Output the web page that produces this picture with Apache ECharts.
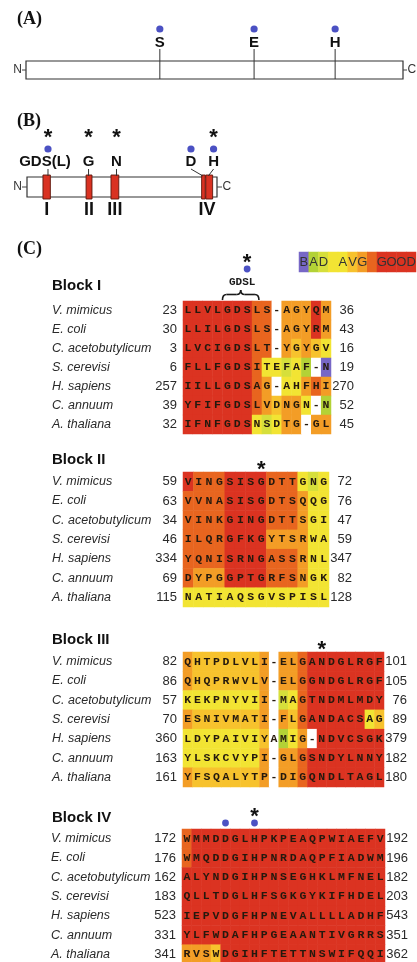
<!DOCTYPE html>
<html>
<head>
<meta charset="utf-8">
<script src="https://cdn.jsdelivr.net/npm/echarts@6/dist/echarts.min.js"></script>
<style>
html,body{margin:0;padding:0;background:#fff;}
#chart{width:417px;height:962px;}
</style>
</head>
<body>
<div id="chart"></div>
<script>
// ---------- Panel A: full-length chain with the catalytic triad ----------
const triadNames = ['S', 'E', 'H'];
const triadPos = [35.5, 60.5, 82.0];          // relative position along the chain (0-100)

// ---------- Panel B: conserved blocks I-IV ----------
const segStart = [8.4, 31.1, 44.2, 91.9, 94.1];
const segEnd   = [12.3, 34.2, 48.3, 93.8, 97.7];
const segBlock = [0, 1, 2, 3, 3];
const blockNumerals = ['I', 'II', 'III', 'IV'];
const motifLabels = ['GDS(L)', 'G', 'N', 'D', 'H'];
const motifAnchor = [11.05, 32.4, 47.1, 86.3, 98.2];
const motifSite   = [11.05, 32.4, 47.1, 92.6, 95.4];
const motifStar = [1, 1, 1, 0, 1];
const motifDot  = [1, 0, 0, 1, 1];

// ---------- Panel C: alignment of the four blocks ----------
const species = ['V. mimicus', 'E. coli', 'C. acetobutylicum', 'S. cerevisi', 'H. sapiens', 'C. annuum', 'A. thaliana'];
const blockTitles = ['Block I', 'Block II', 'Block III', 'Block IV'];

const seqI = ['LLVLGDSLS-AGYQM', 'LLILGDSLS-AGYRM', 'LVCIGDSLT-YGYGV', 'FLLFGDSITEFAF-N', 'IILLGDSAG-AHFHI', 'YFIFGDSLVDNGN-N', 'IFNFGDSNSDTG-GL'];
const scoreI = ['777777766.55575', '777777766.55575', '777777766.54543', '7777777633231.0', '777777765.33565', '7777777654553.1', '777777732355.55'];
const startI = [23, 30, 3, 6, 257, 39, 32];
const endI = [36, 43, 16, 19, 270, 52, 45];

const seqII = ['VINGSISGDTTGNG', 'VVNASISGDTSQQG', 'VINKGINGDTTSGI', 'ILQRGFKGYTSRWA', 'YQNISRNGASSRNL', 'DYPGGPTGRFSNGK', 'NATIAQSGVSPISL'];
const scoreII = ['76667777666323', '66667777666533', '66667777666533', '66667777555533', '66667777666533', '65557777666533', '33333333333333'];
const startII = [59, 63, 34, 46, 334, 69, 115];
const endII = [72, 76, 47, 59, 347, 82, 128];

const seqIII = ['QHTPDLVLI-ELGANDGLRGF', 'QHQPRWVLV-ELGGNDGLRGF', 'KEKPNYVII-MAGTNDMLMDY', 'ESNIVMATI-FLGANDACSAG', 'LDYPAIVIYAMIG-NDVCSGK', 'YLSKCVYPI-GLGSNDYLNNY', 'YFSQALYTP-DIGQNDLTAGL'];
const scoreIII = ['544444445.55677777777', '544444445.55677777777', '333333335.23677777777', '544444445.54677777734', '333333334.135.7777777', '333333335.55677777777', '544444445.55677777777'];
const startIII = [82, 86, 57, 70, 360, 163, 161];
const endIII = [101, 105, 76, 89, 379, 182, 180];

const seqIV = ['WMMDDGLHPKPEAQPWIAEFV', 'WMQDDGIHPNRDAQPFIADWM', 'ALYNDGIHPNSEGHKLMFNEL', 'QLLTDGLHFSGKGYKIFHDEL', 'IEPVDGFHPNEVALLLLADHF', 'YLFWDAFHPGEAANTIVGRRS', 'RVSWDGIHFTETTNSWIFQQI'];
const scoreIV = ['677777777777777777777', '677777777777777777777', '777777777777777777777', '777777777777777777777', '777777777777777777777', '777777777777777777777', '555477777777777777777'];
const startIV = [172, 176, 162, 183, 523, 331, 341];
const endIV = [192, 196, 182, 203, 543, 351, 362];

const blockSeqs = [seqI, seqII, seqIII, seqIV];
const blockScores = [scoreI, scoreII, scoreIII, scoreIV];
const blockStarts = [startI, startII, startIII, startIV];
const blockEnds = [endI, endII, endIII, endIV];
const starCols = [[6], [7], [14], [7]];
const dotCols = [[6], [], [], [4, 7]];
const motifBlock = 0;
const motifText = 'GDSL';
const motifCols = [4, 7];

// conservation scale
const legendLetters = 'BAD AVG GOOD'.split('');
const legendScores = [0, 1, 2, 3, 3, 4, 5, 6, 7, 7, 7, 7];
const scoreColors = ['#7767c6', '#b3d236', '#d6df3b', '#f2e433', '#f7c22d', '#f39d26', '#e8651f', '#db3321'];

// ---------- drawing ----------
const SANS = '"Liberation Sans", Arial, Helvetica, sans-serif';
const SERIF = '"Liberation Serif", "Times New Roman", serif';
const MONO = '"Liberation Mono", "Courier New", monospace';
const DOT = '#4b51c3';

const chart = echarts.init(document.getElementById('chart'), null, { renderer: 'canvas', width: 417, height: 962 });

function starEl(x, y) {
  return { type: 'text', x: x, y: y + 5, style: { text: '*', font: 'bold 22px ' + SANS, fill: '#111', align: 'center', verticalAlign: 'middle' } };
}
function dotEl(x, y, r) {
  return { type: 'circle', shape: { cx: x, cy: y, r: r }, style: { fill: DOT } };
}
function terminals(x0, x1, ym, dash) {
  const f = '12px ' + SANS;
  return [
    { type: 'line', shape: { x1: x0 - dash, y1: ym, x2: x0, y2: ym }, style: { stroke: '#444', lineWidth: 1, fill: 'none' } },
    { type: 'text', x: x0 - dash, y: ym, style: { text: 'N', font: f, fill: '#333', align: 'right', verticalAlign: 'middle' } },
    { type: 'line', shape: { x1: x1, y1: ym, x2: x1 + dash, y2: ym }, style: { stroke: '#444', lineWidth: 1, fill: 'none' } },
    { type: 'text', x: x1 + dash + 0.5, y: ym, style: { text: 'C', font: f, fill: '#333', align: 'left', verticalAlign: 'middle' } }
  ];
}
function chainRender(dash) {
  return function (params, api) {
    const cs = params.coordSys;
    const x0 = api.coord([api.value(0), 0])[0];
    const x1 = api.coord([api.value(1), 0])[0];
    const yT = cs.y, yB = cs.y + cs.height;
    return {
      type: 'group',
      children: [{ type: 'rect', shape: { x: x0, y: yT, width: x1 - x0, height: yB - yT }, style: { fill: '#fff', stroke: '#333', lineWidth: 1.2 } }]
        .concat(terminals(x0, x1, (yT + yB) / 2, dash))
    };
  };
}

// headings as plain text
const headings = [
  { text: '(A)', x: 17, y: 19, font: 'bold 18px ' + SERIF },
  { text: '(B)', x: 17, y: 121, font: 'bold 18px ' + SERIF },
  { text: '(C)', x: 17, y: 249, font: 'bold 18px ' + SERIF }
].concat(blockTitles.map((t, i) => ({ text: t, x: 52, y: [286, 460, 640, 818][i], font: 'bold 15px ' + SANS })))
 .map(h => ({ type: 'text', x: h.x, y: h.y, style: { text: h.text, font: h.font, fill: '#111', verticalAlign: 'middle' } }));

const blockGrids = [
  { left: 183, top: 301, width: 148, height: 133 },
  { left: 183, top: 472, width: 146, height: 135 },
  { left: 183, top: 652, width: 201, height: 135 },
  { left: 182, top: 829, width: 203, height: 135 }
];

const grids = [
  { left: 26, top: 61, width: 377, height: 18 },
  { left: 27, top: 177, width: 190, height: 20 },
  { left: 299, top: 252, width: 117, height: 20 }
].concat(blockGrids).map(g => Object.assign({ containLabel: false, outerBoundsMode: 'none', show: false }, g));

const hidden = { show: false };
const xAxes = [
  { type: 'value', gridIndex: 0, min: 0, max: 100, show: false },
  { type: 'value', gridIndex: 1, min: 0, max: 100, show: false },
  { type: 'category', gridIndex: 2, data: legendLetters.map((_, i) => i), show: false }
].concat(blockSeqs.map((s, b) => ({ type: 'category', gridIndex: 3 + b, data: s[0].split('').map((_, i) => i), show: false })));

const labelText = { fontFamily: SANS, fontSize: 13, color: '#2a2a2a' };
const yAxes = [
  { type: 'value', gridIndex: 0, min: 0, max: 1, show: false },
  { type: 'value', gridIndex: 1, min: 0, max: 1, show: false },
  { type: 'category', gridIndex: 2, data: ['s'], show: false }
].concat(blockSeqs.map((s, b) => ({
  type: 'category', gridIndex: 3 + b, data: species, inverse: true,
  axisLine: hidden, axisTick: hidden, splitLine: hidden,
  axisLabel: {
    interval: 0, margin: 6,
    formatter: (v, i) => '{n|' + v + '}{v|' + blockStarts[b][i] + '}',
    rich: {
      n: Object.assign({}, labelText, { width: 100, align: 'left', fontStyle: 'italic', fontSize: 12.5 }),
      v: Object.assign({}, labelText, { width: 25, align: 'right' })
    }
  }
}))).concat(blockSeqs.map((s, b) => ({
  type: 'category', gridIndex: 3 + b, position: 'right', inverse: true,
  data: blockEnds[b].map(String),
  axisLine: hidden, axisTick: hidden, splitLine: hidden,
  axisLabel: {
    interval: 0, margin: 2,
    formatter: v => '{v|' + v + '}',
    rich: { v: Object.assign({}, labelText, { width: 21, align: 'right' }) }
  }
})));

const series = [];

// Panel A
series.push({
  type: 'custom', xAxisIndex: 0, yAxisIndex: 0, clip: false, silent: true,
  encode: { x: [0, 1], y: 2 }, data: [[0, 100, 0.5]], renderItem: chainRender(4)
});
series.push({
  type: 'custom', xAxisIndex: 0, yAxisIndex: 0, clip: false, silent: true,
  encode: { x: 0, y: 1 }, data: triadPos.map((p, i) => [p, 0.5, i]),
  renderItem: function (params, api) {
    const cs = params.coordSys, i = api.value(2);
    const x = api.coord([api.value(0), 0])[0];
    const yT = cs.y, yB = cs.y + cs.height;
    return {
      type: 'group', children: [
        { type: 'line', shape: { x1: x, y1: yB, x2: x, y2: yT - 12 }, style: { stroke: '#333', lineWidth: 1, fill: 'none' } },
        { type: 'text', x: x, y: yT - 18, style: { text: triadNames[i], font: 'bold 15px ' + SANS, fill: '#111', align: 'center', verticalAlign: 'middle' } },
        dotEl(x, yT - 32, 3.6)
      ]
    };
  }
});

// Panel B
series.push({
  type: 'custom', xAxisIndex: 1, yAxisIndex: 1, clip: false, silent: true,
  encode: { x: [0, 1], y: 2 }, data: [[0, 100, 0.5]], renderItem: chainRender(5)
});
series.push({
  type: 'custom', xAxisIndex: 1, yAxisIndex: 1, clip: false, silent: true,
  encode: { x: [0, 1], y: 2 }, data: segStart.map((s, i) => [s, segEnd[i], 0.5, segBlock[i]]),
  renderItem: function (params, api) {
    const cs = params.coordSys;
    const x0 = api.coord([api.value(0), 0])[0], x1 = api.coord([api.value(1), 0])[0];
    return { type: 'rect', shape: { x: x0, y: cs.y - 2, width: x1 - x0, height: cs.height + 4 }, style: { fill: '#d93222', stroke: '#5e160c', lineWidth: 0.9 } };
  }
});
series.push({
  type: 'custom', xAxisIndex: 1, yAxisIndex: 1, clip: false, silent: true,
  encode: { x: 0, y: 1 },
  data: blockNumerals.map((n, b) => {
    const s = segStart.filter((_, i) => segBlock[i] === b), e = segEnd.filter((_, i) => segBlock[i] === b);
    return [(Math.min.apply(null, s) + Math.max.apply(null, e)) / 2, 0.5, b];
  }),
  renderItem: function (params, api) {
    const cs = params.coordSys;
    const x = api.coord([api.value(0), 0])[0];
    return { type: 'text', x: x, y: cs.y + cs.height + 13, style: { text: blockNumerals[api.value(2)], font: 'bold 18px ' + SANS, fill: '#111', align: 'center', verticalAlign: 'middle' } };
  }
});
series.push({
  type: 'custom', xAxisIndex: 1, yAxisIndex: 1, clip: false, silent: true,
  encode: { x: [0, 1], y: 2 }, data: motifAnchor.map((a, i) => [a, motifSite[i], 0.5, i]),
  renderItem: function (params, api) {
    const cs = params.coordSys, i = api.value(3);
    const ax = api.coord([api.value(0), 0])[0], sx = api.coord([api.value(1), 0])[0];
    const yT = cs.y;
    const label = motifLabels[i];
    const kids = [
      { type: 'text', x: ax - (label.length > 1 ? 3 : 0), y: yT - 15, style: { text: label, font: 'bold 15px ' + SANS, fill: '#111', align: 'center', verticalAlign: 'middle' } },
      { type: 'line', shape: { x1: ax, y1: yT - 8, x2: sx, y2: yT - 1 }, style: { stroke: '#333', lineWidth: 1, fill: 'none' } }
    ];
    if (motifDot[i]) kids.push(dotEl(ax, yT - 28, 3.6));
    if (motifStar[i]) kids.push(starEl(ax, yT - 44));
    return { type: 'group', children: kids };
  }
});

// conservation scale
series.push({
  type: 'heatmap', xAxisIndex: 2, yAxisIndex: 2, silent: true,
  data: legendScores.map((s, i) => [i, 0, s]),
  itemStyle: { borderWidth: 0 },
  label: { show: true, formatter: p => legendLetters[p.value[0]], fontFamily: SANS, fontSize: 13, color: '#333' },
  emphasis: { disabled: true }
});

// alignment blocks
blockSeqs.forEach((seqs, b) => {
  const cells = [];
  seqs.forEach((row, r) => {
    row.split('').forEach((ch, c) => {
      const sc = blockScores[b][r][c];
      cells.push([c, r, sc === '.' ? -1 : Number(sc)]);
    });
  });
  series.push({
    type: 'heatmap', xAxisIndex: 3 + b, yAxisIndex: 3 + b, silent: true,
    data: cells, itemStyle: { borderWidth: 0 },
    label: {
      show: true, formatter: p => seqs[p.value[1]][p.value[0]],
      fontFamily: MONO, fontWeight: 'bold', fontSize: 11.5, color: '#24190e'
    },
    emphasis: { disabled: true }
  });
});

blockSeqs.forEach((seqs, b) => {
  const items = [];
  dotCols[b].forEach(c => items.push([c, 0, 0, c]));
  starCols[b].forEach(c => items.push([c, 0, 1, c]));
  if (b === motifBlock) items.push([motifCols[0], 0, 2, motifCols[1]]);
  series.push({
    type: 'custom', xAxisIndex: 3 + b, yAxisIndex: 3 + b, clip: false, silent: true,
    encode: { x: 0, y: 1 }, data: items,
    renderItem: function (params, api) {
      const top = params.coordSys.y;
      const col = api.value(0), kind = api.value(2);
      const x = api.coord([col, 0])[0];
      const w = api.size([1, 0])[0];
      const off = 6 + (b === motifBlock ? 26 : 0);
      if (kind === 0) return dotEl(x, top - off, 3.4);
      if (kind === 1) return starEl(x, top - off - (dotCols[b].length ? 11 : 1));
      const xEnd = api.coord([api.value(3), 0])[0];
      const xl = x - w / 2, xr = xEnd + w / 2 - 3, xc = (xl + xr) / 2;
      const yb = top - 1, ym = top - 6.5, yt = top - 11, r = 4;
      const st = { stroke: '#1a1a1a', lineWidth: 1.6, fill: 'none' };
      return {
        type: 'group', children: [
          { type: 'bezierCurve', shape: { x1: xl, y1: yb, cpx1: xl, cpy1: ym, x2: xl + r, y2: ym }, style: st },
          { type: 'line', shape: { x1: xl + r, y1: ym, x2: xc - r, y2: ym }, style: st },
          { type: 'bezierCurve', shape: { x1: xc - r, y1: ym, cpx1: xc, cpy1: ym, x2: xc, y2: yt }, style: st },
          { type: 'bezierCurve', shape: { x1: xc, y1: yt, cpx1: xc, cpy1: ym, x2: xc + r, y2: ym }, style: st },
          { type: 'line', shape: { x1: xc + r, y1: ym, x2: xr - r, y2: ym }, style: st },
          { type: 'bezierCurve', shape: { x1: xr - r, y1: ym, cpx1: xr, cpy1: ym, x2: xr, y2: yb }, style: st },
          { type: 'text', x: xc + 1.5, y: top - 19, style: { text: motifText, font: 'bold 11px ' + MONO, fill: '#1a1a1a', align: 'center', verticalAlign: 'middle' } }
        ]
      };
    }
  });
});

const heatmapIdx = series.map((s, i) => s.type === 'heatmap' ? i : -1).filter(i => i >= 0);

chart.setOption({
  animation: false,
  backgroundColor: '#ffffff',
  graphic: headings,
  grid: grids,
  xAxis: xAxes,
  yAxis: yAxes,
  visualMap: {
    type: 'piecewise', show: false, dimension: 2, seriesIndex: heatmapIdx,
    pieces: [{ value: -1, color: '#ffffff' }].concat(scoreColors.map((c, i) => ({ value: i, color: c })))
  },
  series: series
});
</script>
</body>
</html>
